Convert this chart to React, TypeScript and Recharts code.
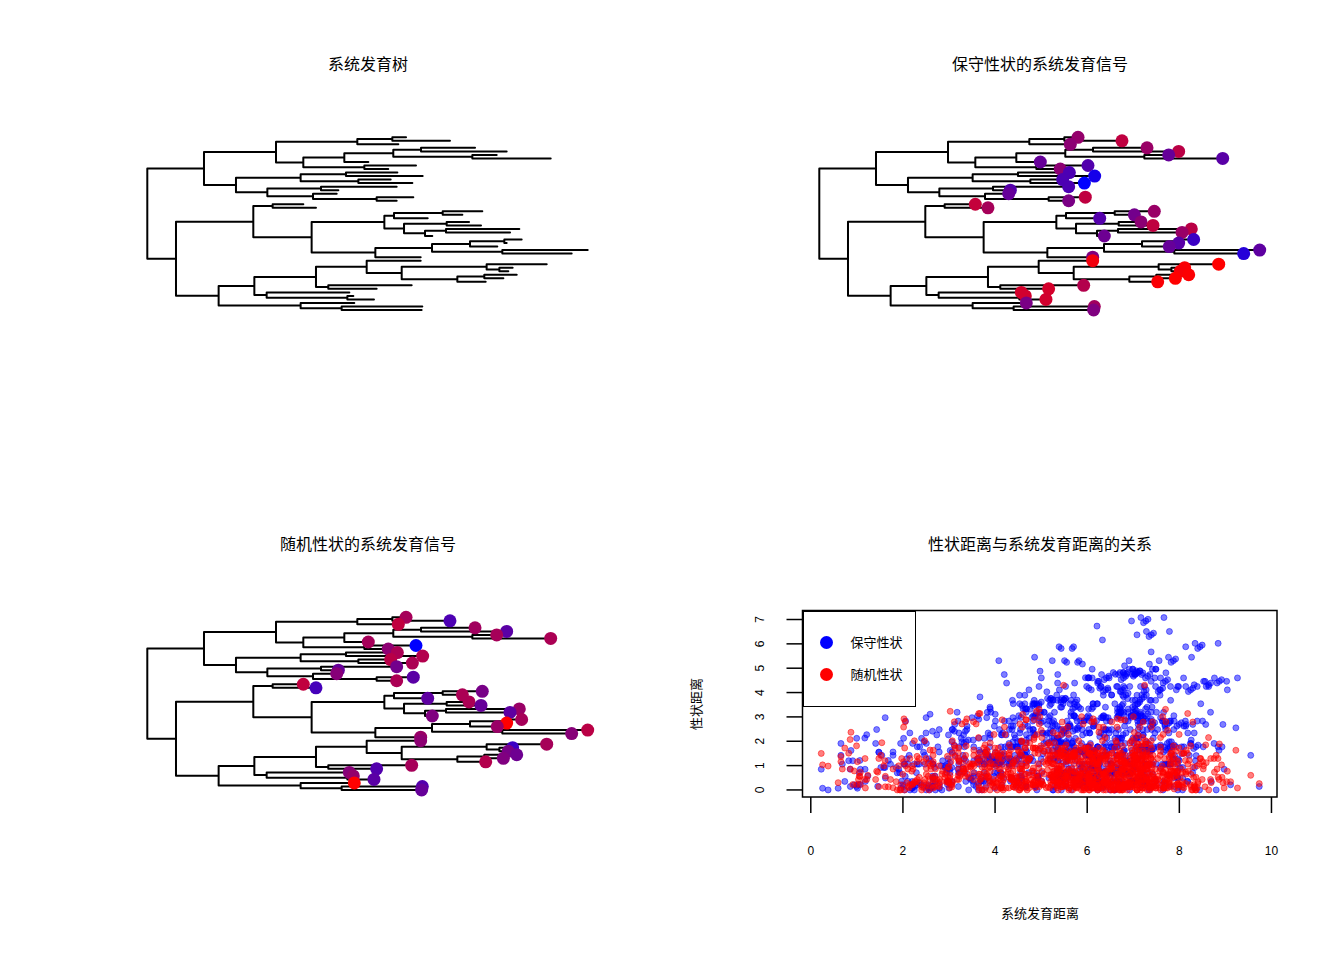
import React from 'react';
import { ComposedChart, ScatterChart, Line, Scatter, XAxis, YAxis, ReferenceArea } from 'recharts';

// tip depths (branch length from root), tips listed top to bottom
const tipDepth = [
  2.985, 3.492, 2.896, 3.781, 4.146, 4.031, 4.654, 2.55, 3.1, 2.78,
  2.885, 3.177, 2.808, 3.058, 2.877, 2.204, 2.185, 3.069, 2.877, 1.8,
  1.946, 3.865, 3.635, 3.235, 3.712, 3.85, 4.292, 4.185, 3.288, 4.319,
  4.146, 4.038, 5.081, 4.896, 3.154, 3.154, 4.608, 4.215, 4.165, 4.262,
  4.108, 3.904, 3.05, 2.646, 2.331, 2.377, 2.615, 2.388, 3.173, 3.165,
];

// internal nodes (parents always listed before their children)
const nodeNames = [
  'root', 'A', 'B', 'C', 'D', 'E', 'F', 'G', 'H', 'I', 'J', 'K', 'L', 'M', 'N', 'O', 'P', 'Q', 'R',
  'S', 'T', 'U', 'V', 'W', 'X', 'Y', 'Z', 'AA', 'AB', 'AC', 'AD', 'AE', 'AF', 'AG', 'AH',
  'AI', 'AJ', 'AK', 'AL', 'AM', 'AN', 'AO', 'AP', 'AQ', 'AR', 'AS', 'AT', 'AU', 'AV',
];
const nodeDepth = [
  0, 0.654, 1.485, 2.423, 2.827, 1.8, 2.273, 2.838, 3.158, 3.75, 2.504, 1.023, 1.769, 2.292, 2.435, 1.385, 2.004, 1.912, 2.646,
  0.331, 1.223, 1.446, 1.896, 2.735, 2.846, 3.408, 2.962, 3.454, 3.204, 3.446, 2.631, 3.285, 3.723, 4.119, 4.096,
  0.823, 1.235, 1.946, 2.531, 2.935, 3.915, 4.062, 3.577, 3.888, 2.088, 1.377, 2.308, 1.769, 2.242,
];
const nodeChildren: (number | string)[][] = [
  ['A', 'S'], ['B', 'K'], ['C', 'E'], ['D', 2], [0, 1], ['F', 'J'], ['G', 7], ['H', 'I'], [3, 4], [5, 6], [8, 9],
  ['L', 'O'], ['M', 'N'], [10, 11], [12, 13], ['P', 'Q'], [14, 15], [16, 'R'], [17, 18],
  ['T', 'AI'], ['U', 'V'], [19, 20], ['W', 'AD'], ['X', 'Z'], ['Y', 23], [21, 22], ['AA', 'AB'], [24, 25], ['AC', 28], [26, 27],
  ['AE', 34], ['AF', 'AH'], ['AG', 31], [29, 30], [32, 33],
  ['AJ', 'AU'], ['AK', 'AS'], ['AL', 'AR'], [35, 'AM'], ['AN', 'AP'], [36, 'AO'], [37, 38], ['AQ', 41], [39, 40], [42, 43],
  [44, 'AT'], [45, 46], [47, 'AV'], [48, 49],
];

// trait values at the tips
const conservedTrait = [
  4.11, 5.31, 3.89, 4.25, 5.17, 2.83, 2.48, 2.83, 2.27, 3.89,
  2.12, 0.57, 2.12, 0.0, 2.12, 2.34, 2.83, 5.31, 3.4, 5.45,
  4.6, 4.25, 3.19, 2.34, 3.89, 5.31, 5.17, 4.25, 3.04, 1.63,
  2.48, 2.83, 2.62, 1.06, 3.54, 6.73, 7.08, 6.94, 6.87, 7.01,
  7.08, 6.94, 4.96, 5.88, 5.88, 5.81, 5.81, 3.4, 4.46, 3.54,
];
const randomTrait = [
  2.8, 1.29, 3.23, 2.71, 1.51, 2.8, 2.88, 2.8, 0.0, 2.37,
  2.88, 3.01, 3.1, 2.88, 1.94, 1.72, 2.28, 1.51, 2.88, 3.23,
  1.16, 2.02, 2.88, 1.59, 2.88, 1.72, 2.58, 1.59, 2.15, 2.8,
  4.3, 2.58, 3.14, 2.28, 2.58, 2.37, 2.8, 0.99, 2.02, 1.85,
  2.15, 3.01, 2.8, 1.38, 2.28, 2.49, 1.51, 4.3, 1.38, 1.72,
];

const distTicks = [0, 2, 4, 6, 8, 10];
const traitTicks = [0, 1, 2, 3, 4, 5, 6, 7];
const legendItems = [
  { name: '保守性状', color: '#0000ff' },
  { name: '随机性状', color: '#ff0000' },
];
const panelTitles = ['系统发育树', '保守性状的系统发育信号', '随机性状的系统发育信号', '性状距离与系统发育距离的关系'];

const FONT = '"Liberation Sans", Arial, "Noto Sans CJK SC", sans-serif';

// ---- tree layout ----
const nodeIndex: Record<string, number> = {};
nodeNames.forEach((n, i) => { nodeIndex[n] = i; });
const nodeY: number[] = [];
const yOf = (c: number | string): number => (typeof c === 'number' ? c + 1 : nodeY[nodeIndex[c]]);
const xOf = (c: number | string): number => (typeof c === 'number' ? tipDepth[c] : nodeDepth[nodeIndex[c]]);
for (let i = nodeNames.length - 1; i >= 0; i--) {
  const ch = nodeChildren[i];
  nodeY[i] = (yOf(ch[0]) + yOf(ch[ch.length - 1])) / 2;
}

const treeLines: { x: number; y: number | null }[] = [];
nodeNames.forEach((_, i) => {
  const x = nodeDepth[i];
  const ch = nodeChildren[i];
  treeLines.push({ x, y: yOf(ch[0]) }, { x, y: yOf(ch[ch.length - 1]) }, { x, y: null });
  ch.forEach((c) => {
    treeLines.push({ x, y: yOf(c) }, { x: xOf(c), y: yOf(c) }, { x: xOf(c), y: null });
  });
});

// ---- cophenetic distances ----
const parentOf: Record<string, number> = {};
nodeChildren.forEach((ch, i) => ch.forEach((c) => { parentOf[typeof c === 'number' ? 't' + c : c] = i; }));
const ancestors = tipDepth.map((_, t) => {
  const list: number[] = [];
  let p = parentOf['t' + t];
  while (p !== undefined) {
    list.push(p);
    p = parentOf[nodeNames[p]];
  }
  return list;
});

const conservedPairs: { x: number; y: number }[] = [];
const randomPairs: { x: number; y: number }[] = [];
for (let i = 0; i < tipDepth.length; i++) {
  for (let j = i + 1; j < tipDepth.length; j++) {
    const mrca = ancestors[i].find((a) => ancestors[j].includes(a)) as number;
    const d = tipDepth[i] + tipDepth[j] - 2 * nodeDepth[mrca];
    conservedPairs.push({ x: d, y: Math.abs(conservedTrait[i] - conservedTrait[j]) });
    randomPairs.push({ x: d, y: Math.abs(randomTrait[i] - randomTrait[j]) });
  }
}

const tipPoints = (vals: number[]) => {
  const lo = Math.min(...vals);
  const hi = Math.max(...vals);
  return vals.map((v, i) => {
    const t = (v - lo) / (hi - lo);
    return { x: tipDepth[i], y: i + 1, color: `rgb(${Math.round(255 * t)},0,${Math.round(255 * (1 - t))})` };
  });
};

const titleStyle = (cx: number, cy: number): React.CSSProperties => ({
  position: 'absolute', left: cx - 250, top: cy - 10, width: 500, height: 20, lineHeight: '20px',
  textAlign: 'center', fontSize: 16, color: '#000',
});

const TreePanel = ({ left, top, traits }: { left: number; top: number; traits?: number[] }) => (
  <div style={{ position: 'absolute', left, top, width: 672, height: 480 }}>
    <ComposedChart width={672} height={480} margin={{ top: 137.3, right: 84.3, bottom: 170, left: 147.3 }}>
      <XAxis type="number" dataKey="x" domain={[0, 5.081]} hide />
      <YAxis type="number" dataKey="y" domain={[1, 50]} reversed hide />
      <Line
        data={treeLines}
        dataKey="y"
        stroke="#000"
        strokeWidth={2}
        strokeLinecap="round"
        dot={false}
        activeDot={false}
        connectNulls={false}
        isAnimationActive={false}
      />
      {traits && (
        <Scatter
          data={tipPoints(traits)}
          isAnimationActive={false}
          shape={(p: any) => <circle cx={p.cx} cy={p.cy} r={6.5} fill={p.payload.color} />}
        />
      )}
    </ComposedChart>
  </div>
);

const RotatedTick = (p: any) => (
  <text
    x={p.x}
    y={p.y}
    transform={`rotate(-90 ${p.x} ${p.y})`}
    textAnchor="middle"
    dominantBaseline="central"
    fontSize={12}
    fill="#000"
    fontFamily={FONT}
  >
    {p.payload.value}
  </text>
);

const dot = (color: string) => (p: any) => (
  <circle cx={p.cx} cy={p.cy} r={3} fill={color} fillOpacity={0.5} stroke={color} strokeOpacity={0.5} strokeWidth={1} />
);

const ScatterPanel = () => (
  <div style={{ position: 'absolute', left: 672, top: 480, width: 672, height: 480 }}>
    <ScatterChart width={672} height={480} margin={{ top: 130.5, right: 67, bottom: 0, left: 0 }}>
      <XAxis
        type="number"
        dataKey="x"
        domain={[-0.18, 10.12]}
        ticks={distTicks}
        allowDataOverflow
        height={163}
        axisLine={false}
        tickSize={16}
        tickMargin={33}
        tickLine={{ stroke: '#000', strokeWidth: 1.5 }}
        tick={{ fill: '#000', fontSize: 12, fontFamily: FONT }}
      />
      <YAxis
        type="number"
        dataKey="y"
        domain={[-0.29, 7.37]}
        ticks={traitTicks}
        allowDataOverflow
        width={130.5}
        axisLine={false}
        tickSize={16}
        tickMargin={26.5}
        tickLine={{ stroke: '#000', strokeWidth: 1.5 }}
        tick={RotatedTick}
      />
      <ReferenceArea x1={-0.18} x2={10.12} y1={-0.29} y2={7.37} fill="none" stroke="#000" strokeWidth={1.5} />
      <Scatter data={conservedPairs} isAnimationActive={false} shape={dot('#0000ff')} />
      <Scatter data={randomPairs} isAnimationActive={false} shape={dot('#ff0000')} />
    </ScatterChart>
    <div
      style={{
        position: 'absolute', left: 130.5, top: 130.5, width: 113, height: 96, boxSizing: 'border-box',
        border: '1.5px solid #000', background: '#fff',
      }}
    >
      {legendItems.map((item, i) => (
        <div key={item.name} style={{ position: 'absolute', left: 0, top: 21 + i * 32, height: 20, width: 110 }}>
          <div
            style={{
              position: 'absolute', left: 16, top: 3, width: 13, height: 13, borderRadius: '50%', background: item.color,
            }}
          />
          <div style={{ position: 'absolute', left: 47, top: 0, lineHeight: '20px', fontSize: 13, color: '#000' }}>
            {item.name}
          </div>
        </div>
      ))}
    </div>
  </div>
);

export default function App() {
  return (
    <div style={{ position: 'absolute', left: 0, top: 0, width: 1344, height: 960, background: '#fff', fontFamily: FONT }}>
      <div style={titleStyle(368, 65)}>{panelTitles[0]}</div>
      <div style={titleStyle(1040, 65)}>{panelTitles[1]}</div>
      <div style={titleStyle(368, 545)}>{panelTitles[2]}</div>
      <div style={titleStyle(1040, 545)}>{panelTitles[3]}</div>
      <TreePanel left={0} top={0} />
      <TreePanel left={672} top={0} traits={conservedTrait} />
      <TreePanel left={0} top={480} traits={randomTrait} />
      <ScatterPanel />
      <div
        style={{
          position: 'absolute', left: 697 - 50, top: 703.75 - 10, width: 100, height: 20, lineHeight: '20px',
          textAlign: 'center', fontSize: 13, transform: 'rotate(-90deg)',
        }}
      >
        性状距离
      </div>
      <div
        style={{
          position: 'absolute', left: 1040 - 100, top: 914 - 10, width: 200, height: 20, lineHeight: '20px',
          textAlign: 'center', fontSize: 13,
        }}
      >
        系统发育距离
      </div>
    </div>
  );
}
